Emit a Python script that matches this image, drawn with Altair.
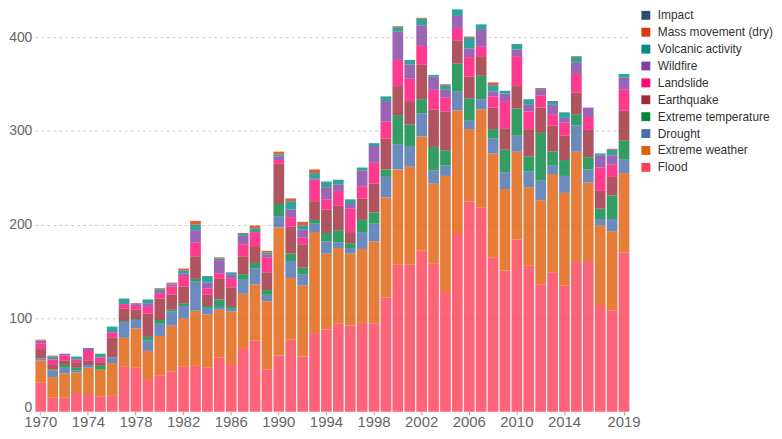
import altair as alt
import pandas as pd

years = list(range(1970, 2020))

# stack order, bottom to top
categories = ["Flood", "Extreme weather", "Drought", "Extreme temperature", "Earthquake",
              "Landslide", "Wildfire", "Volcanic activity", "Mass movement (dry)", "Impact"]

flood = [31, 15, 15, 20, 19, 16, 17, 48, 47, 34,
         39, 43, 48, 49, 47, 58, 50, 68, 76, 45,
         60, 77, 59, 84, 88, 94, 92, 95, 94, 122,
         157, 157, 172, 158, 128, 191, 225, 218, 165, 151,
         184, 156, 136, 149, 135, 160, 161, 114, 108, 170]
extreme_weather = [24, 22, 26, 22, 28, 29, 35, 31, 42, 31,
                   42, 49, 52, 59, 57, 51, 57, 58, 60, 73,
                   137, 66, 76, 108, 81, 81, 77, 79, 88, 107,
                   102, 105, 122, 86, 124, 131, 77, 105, 111, 87,
                   94, 84, 90, 105, 99, 118, 84, 85, 85, 85]
drought = [2, 7, 6, 2, 3, 0, 6, 17, 9, 11,
           13, 15, 13, 31, 7, 3, 3, 15, 17, 7,
           12, 18, 12, 9, 13, 6, 6, 18, 19, 22,
           27, 22, 25, 14, 11, 20, 9, 11, 16, 18,
           17, 17, 21, 9, 18, 28, 14, 7, 13, 15]
extreme_temperature = [0, 1, 3, 3, 0, 4, 0, 1, 1, 4,
                       4, 2, 3, 3, 2, 8, 2, 6, 6, 5,
                       13, 8, 7, 4, 9, 13, 5, 13, 12, 8,
                       31, 23, 15, 25, 16, 30, 24, 25, 10, 24,
                       29, 16, 51, 15, 17, 12, 13, 11, 25, 20]
earthquake = [10, 5, 5, 6, 5, 4, 21, 13, 10, 25,
              23, 16, 18, 24, 12, 22, 21, 19, 18, 19,
              43, 29, 25, 20, 25, 26, 12, 23, 31, 33,
              31, 25, 37, 40, 42, 25, 23, 21, 23, 23,
              24, 29, 27, 28, 26, 23, 29, 19, 20, 32]
landslide = [6, 6, 5, 3, 10, 5, 6, 5, 4, 7,
             5, 9, 11, 15, 7, 6, 9, 13, 15, 16,
             4, 10, 7, 23, 11, 16, 25, 13, 22, 18,
             28, 24, 20, 21, 15, 13, 21, 10, 12, 29,
             32, 19, 13, 12, 14, 20, 14, 25, 13, 22]
wildfire = [3, 0, 2, 0, 3, 0, 0, 0, 2, 4,
            3, 2, 3, 13, 6, 14, 5, 9, 0, 3,
            4, 8, 9, 1, 13, 7, 5, 17, 18, 22,
            30, 15, 22, 14, 8, 13, 9, 18, 5, 8,
            7, 7, 6, 10, 5, 12, 10, 13, 10, 13]
volcanic = [0, 3, 0, 3, 0, 4, 6, 6, 0, 4,
            2, 1, 3, 6, 7, 2, 2, 2, 4, 2,
            2, 9, 4, 6, 6, 5, 5, 3, 3, 5,
            5, 5, 7, 2, 5, 7, 12, 6, 7, 3,
            6, 6, 1, 3, 6, 6, 0, 2, 6, 4]
mass_movement = [1, 1, 0, 0, 0, 0, 0, 0, 1, 0,
                 1, 1, 2, 4, 0, 1, 0, 1, 3, 2,
                 3, 3, 4, 4, 0, 0, 0, 0, 0, 0,
                 1, 0, 1, 0, 1, 0, 1, 0, 3, 0,
                 0, 0, 1, 0, 0, 1, 0, 0, 1, 0]
impact = [0] * 43 + [1] + [0] * 6

series = [flood, extreme_weather, drought, extreme_temperature, earthquake,
          landslide, wildfire, volcanic, mass_movement, impact]

colors = ["#ff3c55", "#e05e09", "#466eac", "#00853d", "#9c2a38",
          "#ff0a74", "#823fa3", "#008b81", "#d63a0a", "#2b4c6f"]

tick_years = [1970, 1974, 1978, 1982, 1986, 1990, 1994, 1998, 2002, 2006, 2010, 2014, 2019]
y_ticks = [0, 100, 200, 300, 400]

rows = []
for rank, (cat, vals) in enumerate(zip(categories, series)):
    for yr, v in zip(years, vals):
        if v > 0:
            rows.append({"year": yr, "type": cat, "count": v, "rank": rank})
df = pd.DataFrame(rows)

legend_order = categories[::-1]
legend_colors = colors[::-1]

chart = alt.Chart(df).mark_bar(opacity=0.8).encode(
    x=alt.X("year:O",
            scale=alt.Scale(paddingInner=0.1, paddingOuter=0.05),
            axis=alt.Axis(values=tick_years, labelAngle=0, title=None, domain=False,
                          ticks=True, tickSize=3, tickColor="#999999",
                          labelFontSize=15, labelColor="#666666", labelPadding=0)),
    y=alt.Y("count:Q", stack="zero",
            scale=alt.Scale(domain=[0, 430], nice=False),
            axis=alt.Axis(values=y_ticks, title=None, domain=False, ticks=False,
                          labelFontSize=14, labelColor="#666666", labelPadding=3,
                          labelOffset=alt.condition("datum.value == 0", alt.value(-4), alt.value(0)),
                          grid=True, gridDash=[3, 3], gridColor="#cccccc",
                          gridOpacity=alt.condition("datum.value == 0", alt.value(0), alt.value(1)))),
    color=alt.Color("type:N",
                    scale=alt.Scale(domain=legend_order, range=legend_colors),
                    legend=alt.Legend(title=None, orient="right", labelFontSize=12,
                                      labelColor="#333333", symbolType="square",
                                      symbolSize=80, symbolOpacity=1, symbolStrokeWidth=0,
                                      rowPadding=5, offset=10, padding=0, labelOffset=6)),
    order=alt.Order("rank:Q", sort="ascending"),
).properties(
    width=599, height=405, padding=0
).configure(
    font="Liberation Sans"
).configure_view(
    stroke=None
)

chart.save("out.html", embed_options={"renderer": "svg", "actions": False})
